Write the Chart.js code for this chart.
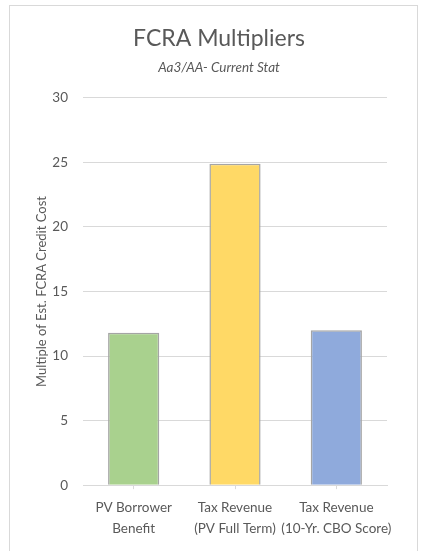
<!DOCTYPE html>
<html>
<head>
<meta charset="utf-8">
<script src="https://cdn.jsdelivr.net/npm/chart.js@4"></script>
<style>
  html, body { margin: 0; padding: 0; background: #fff; }
  #wrap { width: 428px; height: 551px; position: relative; }
</style>
</head>
<body>
<div id="wrap"><canvas id="fcraChart"></canvas></div>
<script>
const categories = [
    ['PV Borrower', 'Benefit'],
    ['Tax Revenue', '(PV Full Term)'],
    ['Tax Revenue', '(10-Yr. CBO Score)']
];
const multipliers = [11.8, 24.9, 12.0];
const barColors = ['#A9D18E', '#FFD966', '#8FAADC'];
const yTicks = [0, 5, 10, 15, 20, 25, 30];

const textColor = '#595959';
const gridColor = '#D9D9D9';
const fontFamily = 'Lato, "Open Sans", sans-serif';

// light frame round the chart, like the office chart border
const framePlugin = {
    id: 'frame',
    beforeDraw(chart) {
        const ctx = chart.ctx;
        ctx.save();
        ctx.strokeStyle = gridColor;
        ctx.lineWidth = 1;
        ctx.strokeRect(9.5, 5.5, 408, 570);
        ctx.restore();
    }
};

const ctx = document.getElementById('fcraChart').getContext('2d');

new Chart(ctx, {
    type: 'bar',
    data: {
        labels: categories,
        datasets: [{
            label: 'Multiple',
            data: multipliers,
            backgroundColor: barColors,
            borderColor: '#A5A5A5',
            borderWidth: 1.5,
            categoryPercentage: 1,
            barPercentage: 0.505
        }]
    },
    options: {
        responsive: true,
        maintainAspectRatio: false,
        animation: false,
        layout: {
            padding: { top: 10, left: 51, right: 41, bottom: 4 }
        },
        scales: {
            x: {
                grid: {
                    display: true,
                    drawOnChartArea: false,
                    offset: false,
                    color: gridColor,
                    tickLength: 4
                },
                border: { display: true, color: gridColor },
                ticks: {
                    color: textColor,
                    padding: 8,
                    font: { family: fontFamily, size: 13.5, lineHeight: 1.55 },
                    maxRotation: 0,
                    autoSkip: false
                }
            },
            y: {
                min: 0,
                max: 30,
                afterBuildTicks(axis) {
                    axis.ticks = yTicks.map(v => ({ value: v }));
                },
                afterFit(axis) {
                    axis.width = 32;
                },
                grid: {
                    color: gridColor,
                    tickLength: 0,
                    drawTicks: false
                },
                border: { display: false },
                ticks: {
                    color: textColor,
                    padding: 15,
                    font: { family: fontFamily, size: 13.5 }
                },
                title: {
                    display: true,
                    text: 'Multiple of Est. FCRA Credit Cost',
                    color: textColor,
                    font: { family: fontFamily, size: 13 },
                    padding: { top: -16.8, bottom: 0 }
                }
            }
        },
        plugins: {
            legend: { display: false },
            tooltip: { enabled: false },
            title: {
                display: true,
                text: 'FCRA Multipliers',
                color: textColor,
                font: { family: fontFamily, size: 23, weight: 'normal' },
                padding: { top: 15, bottom: 7 }
            },
            subtitle: {
                display: true,
                text: 'Aa3/AA- Current Stat',
                color: textColor,
                font: { family: fontFamily, size: 13.5, style: 'italic' },
                padding: { top: 0, bottom: 22 }
            }
        }
    },
    plugins: [framePlugin]
});
</script>
</body>
</html>
